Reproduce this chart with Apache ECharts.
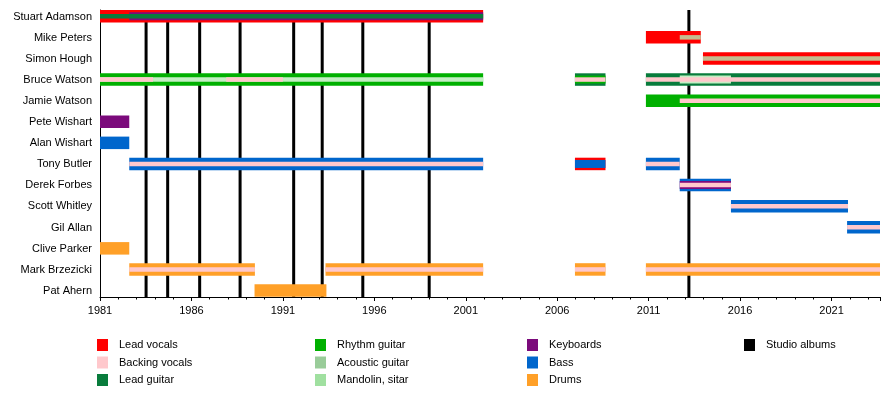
<!DOCTYPE html>
<html>
<head>
<meta charset="utf-8">
<script src="https://cdn.jsdelivr.net/npm/echarts@6/dist/echarts.min.js"></script>
<style>html,body{margin:0;padding:0;background:#fff}#c{width:890px;height:396px}</style>
</head>
<body>
<div id="c"></div>
<script>
// ---- data ----
const members = ['Stuart Adamson','Mike Peters','Simon Hough','Bruce Watson','Jamie Watson','Pete Wishart','Alan Wishart','Tony Butler','Derek Forbes','Scott Whitley','Gil Allan','Clive Parker','Mark Brzezicki','Pat Ahern'];
const yearMin = 1981;
const yearMax = 2023.65;
const studioAlbums = [1983.52, 1984.70, 1986.45, 1988.66, 1991.59, 1993.15, 1995.37, 1999.0, 2013.2];
// [start, end, memberIndex, layer]
const leadVocals    = [[1981, 2001.95, 0, 0], [2010.85, 2013.85, 1, 0], [2013.97, 2023.65, 2, 0], [2006.97, 2008.64, 7, 0]];
const backingVocals = [[1981, 1983.9, 3, 3], [1987.9, 1991.0, 3, 3], [2006.97, 2008.64, 3, 2], [2010.85, 2023.65, 3, 3],
                       [2012.7, 2023.65, 4, 2], [1982.6, 2001.95, 7, 2], [2010.85, 2012.7, 7, 2], [2012.7, 2015.5, 8, 2],
                       [2015.5, 2021.9, 9, 2], [2021.85, 2023.65, 10, 2], [1982.6, 1989.47, 12, 2], [1993.33, 2001.95, 12, 2],
                       [2006.97, 2008.64, 12, 2], [2010.85, 2023.65, 12, 2]];
const leadGuitar    = [[1981, 2001.95, 0, 2], [2006.97, 2008.64, 3, 0], [2010.85, 2023.65, 3, 0]];
const rhythmGuitar  = [[1981, 2001.95, 3, 0], [2006.97, 2008.64, 3, 1], [2010.85, 2023.65, 4, 0]];
const acousticGuitar= [[2012.7, 2013.85, 1, 2], [2013.97, 2023.65, 2, 2]];
const mandolinSitar = [[1981, 2001.95, 3, 2], [2012.7, 2015.5, 3, 1]];
const keyboards     = [[1982.6, 2001.95, 0, 1], [1981, 1982.6, 5, 0], [2012.7, 2015.5, 8, 1]];
const bass          = [[1981, 1982.6, 6, 0], [1982.6, 2001.95, 7, 0], [2006.97, 2008.64, 7, 1], [2010.85, 2012.7, 7, 0],
                       [2012.7, 2015.5, 8, 0], [2015.5, 2021.9, 9, 0], [2021.85, 2023.65, 10, 0]];
const drums         = [[1981, 1982.6, 11, 0], [1982.6, 1989.47, 12, 0], [1993.33, 2001.95, 12, 0], [2006.97, 2008.64, 12, 0],
                       [2010.85, 2023.65, 12, 0], [1989.45, 1993.38, 13, 0]];

// ---- styles ----
const roles = [
  {name:'Lead vocals', color:'#FF0000', data:leadVocals},
  {name:'Backing vocals', color:'#FFC8CC', data:backingVocals},
  {name:'Lead guitar', color:'#087C3C', data:leadGuitar},
  {name:'Rhythm guitar', color:'#00B000', data:rhythmGuitar},
  {name:'Acoustic guitar', color:'#99CC99', data:acousticGuitar, bar:'#C4BC90'},
  {name:'Mandolin, sitar', color:'#A0E0A0', data:mandolinSitar, bar:'#C4EEC4'},
  {name:'Keyboards', color:'#7B0A7B', data:keyboards},
  {name:'Bass', color:'#0066CC', data:bass},
  {name:'Drums', color:'#FFA028', data:drums}
];
const layerHeights = [12.5, 8, 4.5, 4.5];
const font = 'Liberation Sans, Arial, sans-serif';

const chart = echarts.init(document.getElementById('c'), null, {renderer:'canvas'});

function barRender(barColor){
  return function(params, api){
    const s = api.value(0), e = api.value(1), row = api.value(2), layer = api.value(3);
    const p0 = api.coord([s, row]);
    const p1 = api.coord([e, row]);
    const h = layerHeights[layer];
    return {
      type:'rect',
      shape:{x:p0[0], y:p0[1] - 0.3 - h/2, width:p1[0]-p0[0], height:h},
      style:{fill: barColor || api.visual('color')},
      z2: layer*10 + params.seriesIndex
    };
  };
}

const series = roles.map(r => ({
  name: r.name,
  type: 'custom',
  xAxisIndex: 1, yAxisIndex: 1,
  itemStyle: {color: r.color},
  renderItem: barRender(r.bar),
  encode: {x:[0,1], y:2},
  data: r.data,
  z: 3,
  silent: true
}));

series.push({
  name:'Studio albums',
  type:'custom',
  xAxisIndex:0, yAxisIndex:0,
  itemStyle:{color:'#000'},
  renderItem: function(params, api){
    const yr = api.value(0);
    const top = api.coord([yr, 1]);
    const bot = api.coord([yr, 0]);
    return {type:'rect', shape:{x:top[0]-1.5, y:top[1], width:3, height:bot[1]-top[1]}, style:{fill:'#000'}};
  },
  encode:{x:0},
  data: studioAlbums.map(v => [v]),
  z: 1,
  silent: true
});

function legendCol(left, names){
  return {
    orient:'vertical', left:left, top:339, padding:0,
    itemWidth:11, itemHeight:12, itemGap:5.5,
    icon:'rect', selectedMode:false,
    data:names,
    textStyle:{fontFamily:font, fontSize:11, color:'#000', padding:[0,0,0,6]}
  };
}

chart.setOption({
  animation:false,
  backgroundColor:'#fff',
  grid:[
    {left:100, width:780, top:10, height:287},
    {left:100, width:780, top:6, height:295.4}
  ],
  xAxis:[
    {type:'value', gridIndex:0, min:yearMin, max:yearMax, interval:5,
     axisLine:{show:true, lineStyle:{color:'#000', width:1}},
     axisTick:{show:true, length:4, lineStyle:{color:'#000'}},
     minorTick:{show:true, splitNumber:5, length:2.5, lineStyle:{color:'#000'}},
     splitLine:{show:false},
     axisLabel:{fontFamily:font, fontSize:11, color:'#000', margin:8,
       formatter: v => ((Math.round(v) === v && (v - yearMin) % 5 === 0) ? String(v) : '')}},
    {type:'value', gridIndex:1, min:yearMin, max:yearMax, show:false}
  ],
  yAxis:[
    {type:'value', gridIndex:0, min:0, max:1,
     axisLine:{show:true, lineStyle:{color:'#000', width:1}},
     axisTick:{show:false}, axisLabel:{show:false}, splitLine:{show:false}},
    {type:'category', gridIndex:1, inverse:true, data:members,
     axisLine:{show:false}, axisTick:{show:false}, splitLine:{show:false},
     axisLabel:{fontFamily:font, fontSize:11, color:'#000', margin:8}}
  ],
  legend:[
    legendCol(97, ['Lead vocals','Backing vocals','Lead guitar']),
    legendCol(315, ['Rhythm guitar','Acoustic guitar','Mandolin, sitar']),
    legendCol(527, ['Keyboards','Bass','Drums']),
    legendCol(744, ['Studio albums'])
  ],
  series: series
});
</script>
</body>
</html>
